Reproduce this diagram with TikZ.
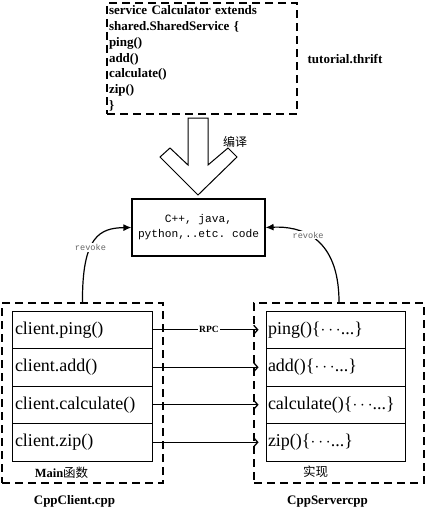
\documentclass[tikz,border=0pt]{standalone}
\usepackage{fontspec}
\setmainfont{Liberation Serif}
\setmonofont{Liberation Mono}
\newfontfamily\cjk{Noto Sans CJK SC}
\usetikzlibrary{arrows.meta}

\begin{document}
\begin{tikzpicture}[x=1pt,y=-1pt,
  dbox/.style={draw=black,line width=1.5pt,dash pattern=on 8pt off 5pt},
  lrow/.style={draw=black,line width=0.8pt,minimum height=37.5pt,inner sep=3pt,text width=134pt,align=left,font=\fontsize{18}{20}\selectfont},
  rrow/.style={lrow,inner sep=2pt,text width=135pt},
  lbl/.style={font=\bfseries\fontsize{13}{15}\selectfont},
  revlbl/.style={fill=white,inner sep=1pt,text=black!60,font=\ttfamily\fontsize{8.6}{10}\selectfont},
  call/.style={line width=1.4pt,-{Straight Barb[length=4pt,width=9pt,line width=1.3pt]},shorten >=7pt}]
   \useasboundingbox (0,0) rectangle (425,511);
   % thrift file
   \node[dbox,minimum width=190pt,minimum height=111pt,inner sep=2pt,text width=186pt,align=left,
     font=\bfseries\fontsize{13}{15.8}\selectfont] (idl) at (202,58.5)
     {service Calculator extends\\ shared.SharedService \{\\ ping()\\ add()\\ calculate()\\ zip()\\ \}};
   \node[lbl] (idlname) at (345,59) {tutorial.thrift};
   % compile arrow
   \draw[line width=1pt] (188,118) -- (188,165) -- (170,148) -- (160,157) -- (198,195)
     -- (237,157) -- (228,148) -- (208,165) -- (208,118) -- cycle;
   \node[font=\cjk\fontsize{12}{14}\selectfont] (compile) at (235,142) {编译};
   % generated code
   \node[draw=black,line width=1.2pt,minimum width=133pt,minimum height=57pt,align=center,
     font=\ttfamily\fontsize{11.2}{15}\selectfont] (code) at (198.5,227.5)
     {C++, java,\\ python,..etc. code};
   % client and server
   \node[dbox,minimum width=161pt,minimum height=180pt] (client) at (82.5,393) {};
   \node[dbox,minimum width=170pt,minimum height=180pt] (server) at (339,393) {};
   \node[lrow] (lping) at (82,329.75) {client.ping()};
   \node[lrow] (ladd) at (82,367.25) {client.add()};
   \node[lrow] (lcalc) at (82,404.75) {client.calculate()};
   \node[lrow] (lzip) at (82,442.25) {client.zip()};
   \node[rrow] (rping) at (335.5,329.75) {ping()\{$\cdots$...\}};
   \node[rrow] (radd) at (335.5,367.25) {add()\{$\cdots$...\}};
   \node[rrow] (rcalc) at (335.5,404.75) {calculate()\{$\cdots$...\}};
   \node[rrow] (rzip) at (335.5,442.25) {zip()\{$\cdots$...\}};
   \node[font=\fontsize{12.5}{14}\selectfont] (mainfn) at (61.5,473) {\textbf{Main}{\cjk 函数}};
   \node[font=\cjk\fontsize{12.5}{14}\selectfont] (impl) at (315.5,472) {实现};
   \node[lbl] (cname) at (74.5,501) {CppClient.cpp};
   \node[lbl] (sname) at (327.5,502) {CppServercpp};
   % calls
   \draw[call] (lping.east) -- node[fill=white,inner sep=1pt,font=\bfseries\fontsize{9.5}{11}\selectfont]{RPC} (rping.west);
   \draw[call] (ladd.east) -- (radd.west);
   \draw[call] (lcalc.east) -- (rcalc.west);
   \draw[call] (lzip.east) -- (rzip.west);
   % revoke
   \draw[line width=1.2pt,-{Latex[length=8pt,width=7pt]}] (client.north) .. controls (82,236) and (100,228) .. node[revlbl,pos=0.4]{revoke} (code.west);
   \draw[line width=1.2pt,-{Latex[length=8pt,width=7pt]}] (server.north) .. controls (339,236) and (300,226) .. node[revlbl,pos=0.58]{revoke} (code.east);
\end{tikzpicture}
\end{document}
